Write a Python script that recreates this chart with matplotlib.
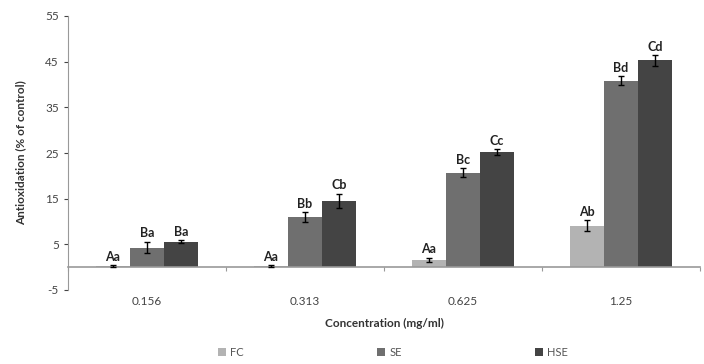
import numpy as np
import matplotlib.pyplot as plt
from matplotlib.patches import Patch

plt.rcParams['font.family'] = ['Lato', 'DejaVu Sans']
plt.rcParams['axes.unicode_minus'] = False

concentrations = ["0.156", "0.313", "0.625", "1.25"]
series_names = ["FC", "SE", "HSE"]
fc_vals = [0.2, 0.3, 1.6, 9.1]
se_vals = [4.3, 11.0, 20.7, 40.8]
hse_vals = [5.6, 14.5, 25.2, 45.3]
fc_err = [0.2, 0.2, 0.5, 1.2]
se_err = [1.3, 1.0, 1.0, 1.0]
hse_err = [0.3, 1.6, 0.7, 1.2]
fc_letters = ["Aa", "Aa", "Aa", "Ab"]
se_letters = ["Ba", "Bb", "Bc", "Bd"]
hse_letters = ["Ba", "Cb", "Cc", "Cd"]

colors = ["#b3b3b3", "#6f6f6f", "#444444"]

fig = plt.figure(figsize=(7.04, 3.64), dpi=100)
ax = fig.add_axes([68 / 704, 74 / 364, 632 / 704, 274 / 364])

x = np.arange(len(concentrations))
w = 0.215
groups = [(fc_vals, fc_err, fc_letters), (se_vals, se_err, se_letters), (hse_vals, hse_err, hse_letters)]
for i, (vals, errs, letters) in enumerate(groups):
    pos = x + (i - 1) * w
    ax.bar(pos, vals, w, color=colors[i], zorder=2)
    ax.errorbar(pos, vals, yerr=errs, fmt="none", ecolor="black", elinewidth=1,
                capsize=2.5, capthick=1, zorder=3)
    for p, v, e, t in zip(pos, vals, errs, letters):
        ax.text(p, v + e + 0.5, t, ha="center", va="bottom", fontsize=9,
                fontweight="bold", color="#222222")

ax.set_xlim(-0.5, len(concentrations) - 0.5)
ax.set_ylim(-5, 55)
ax.set_yticks(np.arange(-5, 56, 10))
ax.tick_params(axis="y", labelsize=8.5, colors="#444444", length=3, width=0.8)

ax.spines["top"].set_visible(False)
ax.spines["right"].set_visible(False)
ax.spines["left"].set_color("#999999")
ax.spines["bottom"].set_position(("data", 0))
ax.spines["bottom"].set_color("#999999")
ax.spines["bottom"].set_linewidth(1.2)

ax.set_xticks(np.arange(-0.5, len(concentrations), 1.0))
ax.set_xticklabels([])
ax.tick_params(axis="x", which="major", length=3, colors="#999999")
ax.set_xticks(x, minor=True)
ax.set_xticklabels(concentrations, minor=True)
ax.tick_params(axis="x", which="minor", length=0, pad=21, labelsize=8.5, labelcolor="#444444")

ax.set_ylabel("Antioxidation (% of control)", fontsize=8.5, fontweight="bold", color="#333333", labelpad=14)
fig.text((68 + 700) / 2 / 704, 1 - 323 / 364, "Concentration (mg/ml)", ha="center",
         va="center", fontsize=8.5, fontweight="bold", color="#333333")

handles = [Patch(facecolor=c) for c in colors]
fig.legend(handles, series_names, loc="center", bbox_to_anchor=(393 / 704, 1 - 352 / 364),
           ncol=3, frameon=False, fontsize=8, handlelength=0.7, handleheight=0.7,
           columnspacing=12, handletextpad=0.4, labelcolor="#555555")

fig.savefig("out.png", dpi=100)
